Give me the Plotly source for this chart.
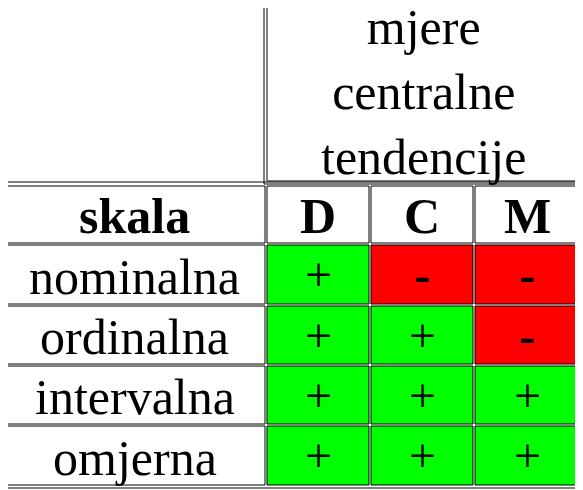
import plotly.graph_objects as go

title = "mjere<br>centralne<br>tendencije"
row_header = "skala"
columns = ["D", "C", "M"]
scales = ["nominalna", "ordinalna", "intervalna", "omjerna"]
marks = [["+", "-", "-"],
         ["+", "+", "-"],
         ["+", "+", "+"],
         ["+", "+", "+"]]

GREEN = "#00ff00"
RED = "#ff0000"
FONT = "Liberation Serif"

col_x = [3, 266, 370, 474, 580]
row_y = [184, 244, 305, 365, 425, 486]

fig = go.Figure()
shapes = []
ann = []


def cell(x0, x1, y0, y1, fill="white"):
    shapes.append(dict(type="rect", xref="x", yref="y", x0=x0, x1=x1, y0=y0, y1=y1,
                       fillcolor=fill, line=dict(color="black", width=1)))


# outer frames (double border look)
shapes.append(dict(type="rect", xref="x", yref="y", x0=264, x1=582, y0=0, y1=184,
                   line=dict(color="black", width=1)))
shapes.append(dict(type="rect", xref="x", yref="y", x0=1, x1=582, y0=182, y1=488,
                   line=dict(color="black", width=1)))
cell(267, 579, 3, 181)
ann.append(dict(x=423, y=92, text=title, font=dict(size=50)))

# header row
cell(col_x[0] + 1, col_x[1] - 1, row_y[0] + 2, row_y[1] - 1)
ann.append(dict(x=(col_x[0] + col_x[1]) / 2, y=(row_y[0] + row_y[1]) / 2 + 2,
                text="<b>%s</b>" % row_header, font=dict(size=50)))
for j, c in enumerate(columns):
    cell(col_x[j + 1] + 1, col_x[j + 2] - 1, row_y[0] + 2, row_y[1] - 1)
    ann.append(dict(x=(col_x[j + 1] + col_x[j + 2]) / 2, y=(row_y[0] + row_y[1]) / 2 + 2,
                    text="<b>%s</b>" % c, font=dict(size=50)))

for i, s in enumerate(scales):
    y0, y1 = row_y[i + 1] + 1, row_y[i + 2] - 1
    cell(col_x[0] + 1, col_x[1] - 1, y0, y1)
    ann.append(dict(x=(col_x[0] + col_x[1]) / 2, y=(y0 + y1) / 2 + 2, text=s,
                    font=dict(size=50)))
    for j, m in enumerate(marks[i]):
        fill = GREEN if m == "+" else RED
        cell(col_x[j + 1] + 1, col_x[j + 2] - 1, y0, y1, fill)
        txt = m if m == "+" else "<b>-</b>"
        ann.append(dict(x=(col_x[j + 1] + col_x[j + 2]) / 2, y=(y0 + y1) / 2, text=txt,
                        font=dict(size=48)))

for a in ann:
    a.update(xref="x", yref="y", showarrow=False)
    a["font"].update(family=FONT, color="black")

# page body adds an 8px margin, so shift the ranges to compensate
fig.update_layout(
    width=583, height=490, margin=dict(l=0, r=0, t=0, b=0),
    plot_bgcolor="white", paper_bgcolor="white",
    xaxis=dict(range=[8, 591], visible=False, fixedrange=True),
    yaxis=dict(range=[498, 8], visible=False, fixedrange=True),
    shapes=shapes, annotations=ann, showlegend=False,
)
fig.write_html("out.html")
